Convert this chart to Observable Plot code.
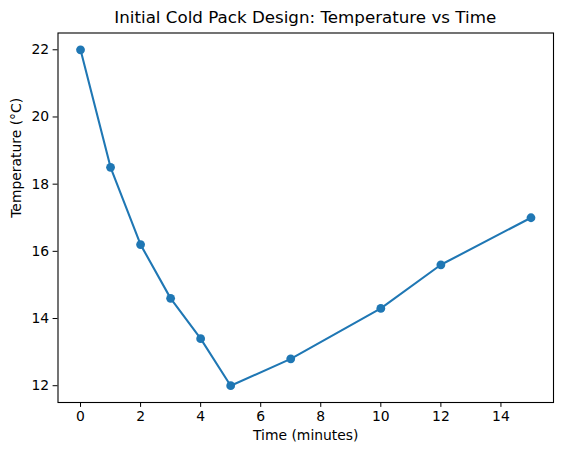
<!DOCTYPE html>
<html>
<head>
<meta charset="utf-8">
<script src="https://cdn.jsdelivr.net/npm/d3@7"></script>
<script src="https://cdn.jsdelivr.net/npm/@observablehq/plot@0.6"></script>
<style>
  body { margin: 0; background: #fff; font-family: "DejaVu Sans", sans-serif; }
  #wrap { width: 563px; position: relative; }
  #title { height: 24px; position: relative; }
  #title span { position: absolute; left: 57.5px; width: 495.5px; top: 8.5px; text-align: center; font-size: 16.7px; line-height: 17px; color: #000; white-space: nowrap; }
</style>
</head>
<body>
<div id="wrap">
  <div id="title"><span>Initial Cold Pack Design: Temperature vs Time</span></div>
  <div id="chart"></div>
</div>
<script>
const times = [0, 1, 2, 3, 4, 5, 7, 10, 12, 15];
const temps = [22, 18.5, 16.2, 14.6, 13.4, 12, 12.8, 14.3, 15.6, 17];
const xTicks = [0, 2, 4, 6, 8, 10, 12, 14];
const yTicks = [12, 14, 16, 18, 20, 22];

const data = times.map((t, i) => ({ t, v: temps[i] }));
const color = "#1f77b4";

const plot = Plot.plot({
  width: 563,
  height: 431,
  marginTop: 8.5,
  marginBottom: 53,
  marginLeft: 57.5,
  marginRight: 10,
  style: { fontFamily: "DejaVu Sans, sans-serif", fontSize: "13.9px", color: "#000", background: "#fff" },
  x: { domain: [-0.75, 15.75], ticks: xTicks, label: null, tickSize: 0 },
  y: { domain: [11.5, 22.5], ticks: yTicks, label: null, tickSize: 0 },
  marks: [
    Plot.frame({ stroke: "#000", strokeWidth: 1.1 }),
    Plot.axisX(xTicks, { tickSize: 4.9, tickPadding: 4, fontSize: 13.9, label: null, stroke: "#000" }),
    Plot.axisY(yTicks, { tickSize: 4.9, tickPadding: 4, fontSize: 13.9, label: null, stroke: "#000" }),
    Plot.line(data, { x: "t", y: "v", stroke: color, strokeWidth: 2.08 }),
    Plot.dot(data, { x: "t", y: "v", fill: color, r: 4.4, stroke: null }),
    Plot.text(["Time (minutes)"], { frameAnchor: "bottom", dy: 37, fontSize: 13.9, fill: "#000" }),
    Plot.text(["Temperature (°C)"], { frameAnchor: "left", dx: -41, rotate: -90, fontSize: 13.9, fill: "#000" })
  ]
});
document.getElementById("chart").appendChild(plot);
</script>
</body>
</html>
